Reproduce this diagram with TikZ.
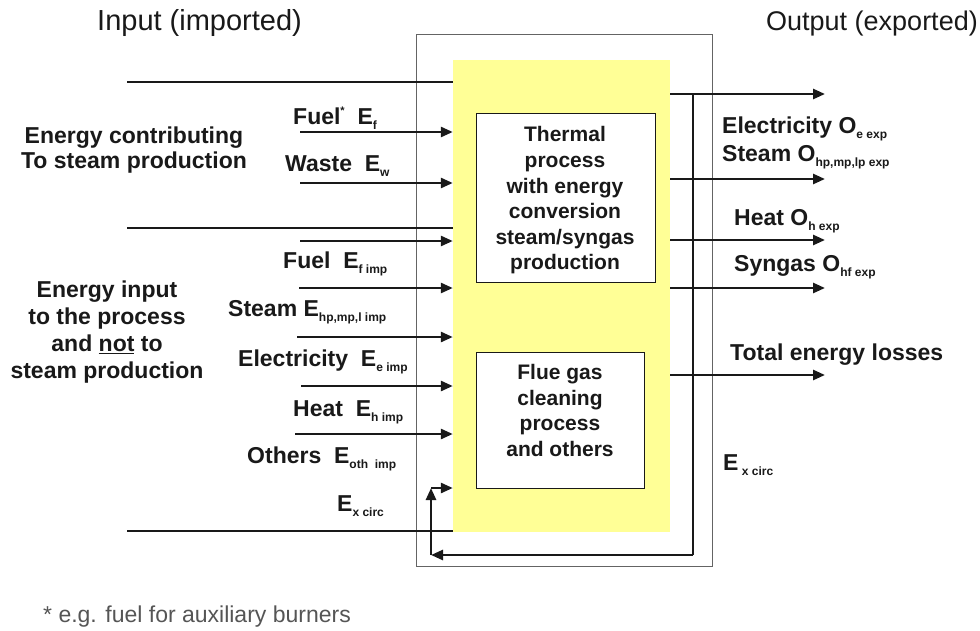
\documentclass[tikz,border=0pt]{standalone}
\usepackage{fontspec}
\setmainfont{Liberation Sans}
\usetikzlibrary{arrows.meta}
\definecolor{ylw}{RGB}{255,255,150}
\definecolor{boxgray}{RGB}{100,100,100}
\definecolor{ink}{RGB}{25,25,25}
\definecolor{notegray}{RGB}{85,85,85}
\newcommand\sbt[1]{\raisebox{-0.45ex}{\fontsize{12}{12}\selectfont #1}}
\newcommand\spt[1]{\raisebox{0.75ex}{\fontsize{11}{11}\selectfont #1}}
\begin{document}
\begin{tikzpicture}[x=1pt,y=-1pt,
  lab/.style={font=\fontsize{23}{26}\selectfont\bfseries, text=ink, inner sep=0pt, anchor=base west},
  arr/.style={line width=2.6pt, draw=ink, -{Triangle[length=12pt,width=10pt]}},
  plain/.style={line width=2.8pt, draw=ink},
  procbox/.style={draw=ink, fill=white, line width=1pt, inner sep=0pt, align=center, text=ink,
    font=\fontsize{21}{25.6}\selectfont\bfseries},
  head/.style={text=ink, inner sep=0pt},
  block/.style={font=\fontsize{23}{25}\selectfont\bfseries, text=ink, inner sep=0pt, align=center}
  ]
\useasboundingbox (0,0) rectangle (980,630);
\fill[white] (0,0) rectangle (980,630);

% boxes
\node[draw=boxgray, line width=1pt, minimum width=296pt, minimum height=532pt, inner sep=0pt] (outer) at (564,300) {};
\node[fill=ylw, minimum width=217pt, minimum height=472pt, inner sep=0pt] (yel) at (561.5,296) {};
\node[procbox, minimum width=179pt, minimum height=169pt] (therm) at (565.5,197.5) {};
\node[procbox, draw=none, fill=none] (thermtxt) at (565,200.5)
  {Thermal\\process\\with energy\\conversion\\steam/syngas\\production};
\node[procbox, minimum width=168pt, minimum height=136pt] (flue) at (560,420) {};
\node[procbox, draw=none, fill=none] (fluetxt) at (560,410.5)
  {Flue gas\\cleaning\\process\\and others};

% headers
\node[head, anchor=base west, font=\fontsize{29}{30}\selectfont] (hin) at (97,30) {Input (imported)};
\node[head, anchor=base east, font=\fontsize{27}{30}\selectfont] (hout) at (978,30) {Output (exported)};

% left blocks
\node[block] (contrib) at (134,150.5) {Energy contributing\\To steam production};
\node[block, font=\fontsize{23}{26.7}\selectfont\bfseries] (notsteam) at (107,332)
  {Energy input\\to the process\\and \underline{not} to\\steam production};

% input lines
\coordinate (i1) at (127,82);
\coordinate (i2) at (300,132);
\coordinate (i3) at (300,183);
\coordinate (i4) at (127,228);
\coordinate (i5) at (300,241);
\coordinate (i6) at (299,288);
\coordinate (i7) at (297,337);
\coordinate (i8) at (301,386);
\coordinate (i9) at (295,434);
\coordinate (i10) at (127,531);
\draw[plain] (i1) -- (i1 -| yel.west);
\draw[arr] (i2) -- (i2 -| yel.west);
\draw[arr] (i3) -- (i3 -| yel.west);
\draw[plain] (i4) -- (i4 -| yel.west);
\draw[arr] (i5) -- (i5 -| yel.west);
\draw[arr] (i6) -- (i6 -| yel.west);
\draw[arr] (i7) -- (i7 -| yel.west);
\draw[arr] (i8) -- (i8 -| yel.west);
\draw[arr] (i9) -- (i9 -| yel.west);
\draw[plain] (i10) -- (i10 -| yel.west);

% input labels
\node[lab] (lf) at (293,124) {Fuel\spt{*}\ \ E\sbt{f}};
\node[lab] (lw) at (285,171) {Waste\ \ E\sbt{w}};
\node[lab] (lfi) at (283,268) {Fuel\ \ E\sbt{f imp}};
\node[lab] (lst) at (228,316) {Steam E\sbt{hp,mp,l imp}};
\node[lab] (lel) at (238,366) {Electricity\ \ E\sbt{e imp}};
\node[lab] (lhe) at (293,416) {Heat\ \ E\sbt{h imp}};
\node[lab] (lot) at (247,463) {Others\ \ E\sbt{oth\ \ imp}};
\node[lab] (lxc) at (337,511) {E\sbt{x circ}};

% output lines
\coordinate (o1) at (825,94);
\coordinate (o2) at (825,179);
\coordinate (o3) at (825,240);
\coordinate (o4) at (825,288);
\coordinate (o5) at (825,375);
\draw[arr] (o1 -| yel.east) -- (o1);
\draw[arr] (o2 -| yel.east) -- (o2);
\draw[arr] (o3 -| yel.east) -- (o3);
\draw[arr] (o4 -| yel.east) -- (o4);
\draw[arr] (o5 -| yel.east) -- (o5);

% output labels
\node[lab] (oel) at (722,133) {Electricity O\sbt{e\ exp}};
\node[lab] (ost) at (722,161) {Steam O\sbt{hp,mp,lp exp}};
\node[lab] (ohe) at (734,225) {Heat O\sbt{h exp}};
\node[lab] (osy) at (734,271) {Syngas O\sbt{hf exp}};
\node[lab] (olo) at (730,360) {Total energy losses};
\node[lab] (oxc) at (723,470) {E\sbt{\ x circ}};

% recirculation loop
\coordinate (c1) at (693,94);
\coordinate (c2) at (693,555);
\coordinate (c3) at (431,555);
\coordinate (c4) at (431,488);
\draw[plain] (c1) -- (c2);
\draw[arr] (c2) -- (c3);
\draw[arr] (c3) -- (c4);
\draw[arr] (c4) -- (c4 -| yel.west);

% footnote
\node[anchor=base west, inner sep=0pt, text=notegray, font=\fontsize{23}{26}\selectfont] (note) at (43,622)
  {* e.g. fuel for auxiliary burners};
\end{tikzpicture}
\end{document}
